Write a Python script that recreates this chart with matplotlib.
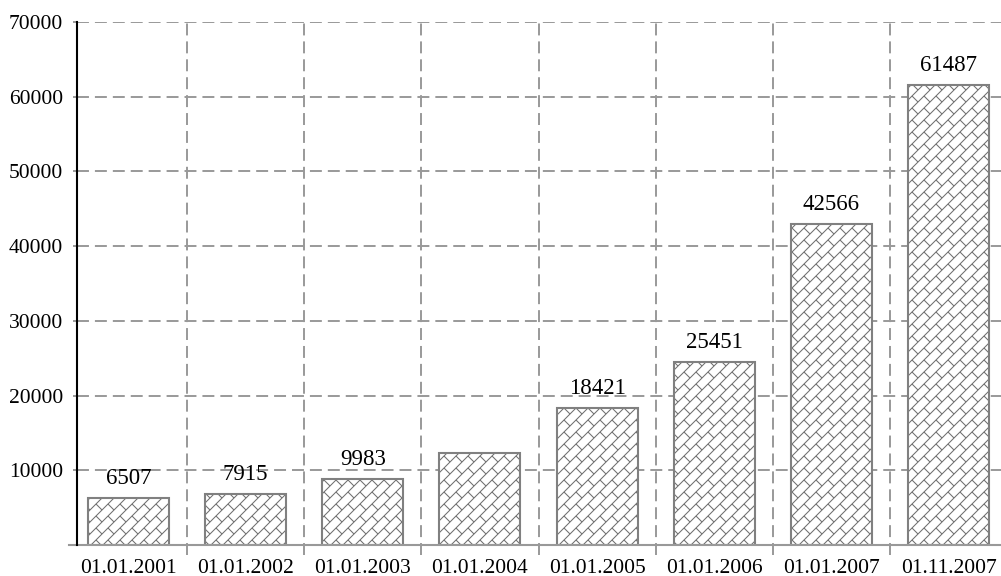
"""
Bar chart with diagonal-brick hatching, dashed grid and value labels.
"""

import matplotlib
matplotlib.use('Agg')  # no display
import matplotlib.pyplot as plt
from matplotlib.collections import LineCollection
from matplotlib.transforms import IdentityTransform
import numpy as np

# Data
dates = ['01.01.2001', '01.01.2002', '01.01.2003', '01.01.2004',
         '01.01.2005', '01.01.2006', '01.01.2007', '01.11.2007']
bar_heights = [6300, 6800, 8850, 12250, 18350, 24450, 42950, 61600]
value_labels = ['6507', '7915', '9983', '', '18421', '25451', '42566', '61487']
y_ticks = [10000, 20000, 30000, 40000, 50000, 60000, 70000]

# Style
GRID_COLOR = '#999999'
EDGE_COLOR = '#808080'
HATCH_COLOR = '#6f6f6f'
FONT = 'Liberation Serif'
DASHES = (0, (8.6, 4.3))
BRICK_STEP = 12  # px between hatch lines

plt.rcParams['font.family'] = FONT
plt.rcParams['lines.scale_dashes'] = False

W, H = 1001, 576
fig = plt.figure(figsize=(W / 100, H / 100), dpi=100)
ax = fig.add_axes([77 / W, 31 / H, (W - 77) / W, 523 / H])

x = np.arange(len(dates))
ax.set_xlim(-0.4386, 7.447)
ax.set_ylim(0, 70000)


def brick_segments(x0, x1, y0, y1, step):
    """Diagonal brick pattern in pixel space over a box."""
    segs = []
    k_lo = int(np.floor((x0 - y1) / step)) - 1
    k_hi = int(np.ceil((x1 - y0) / step)) + 1
    j_lo = int(np.floor(y0 / step)) - 1
    j_hi = int(np.ceil(y1 / step)) + 1
    for k in range(k_lo, k_hi + 1):
        c = k * step
        # long "/" line
        segs.append([(y0 - step + c, y0 - step), (y1 + step + c, y1 + step)])
        # short "\" steps to the next line, staggered by half a brick
        for j in range(j_lo, j_hi + 1):
            yy = j * step
            segs.append([(yy + c, yy), (yy + c + step / 2, yy - step / 2)])
    return segs


bars = ax.bar(x, bar_heights, width=0.69, color='white', linewidth=0, zorder=2)
for bar in bars:
    (bx0, by0), (bx1, by1) = ax.transData.transform(
        [(bar.get_x(), 0), (bar.get_x() + bar.get_width(), bar.get_height())])
    lc = LineCollection(brick_segments(bx0, bx1, by0, by1, BRICK_STEP),
                        colors=HATCH_COLOR, linewidths=0.75,
                        transform=IdentityTransform(), zorder=3)
    ax.add_collection(lc, autolim=False)
    lc.set_clip_path(bar)  # after add_collection, which would reset it
ax.bar(x, bar_heights, width=0.69, fill=False, edgecolor=EDGE_COLOR,
       linewidth=1.5, zorder=4)

for xi, h, lab in zip(x, bar_heights, value_labels):
    if lab:
        ax.annotate(lab, (xi, h), xytext=(0, 10), textcoords='offset points',
                    ha='center', va='baseline', fontsize=16.5, color='black')

# Grid
ax.set_yticks(y_ticks)
ax.set_yticklabels([str(v) for v in y_ticks])
ax.yaxis.grid(True, color=GRID_COLOR, linewidth=1.4, linestyle=DASHES, zorder=1)
ax.set_axisbelow(True)
ax.vlines(x[:-1] + 0.5, -0.02, 1, transform=ax.get_xaxis_transform(),
          colors=GRID_COLOR, linewidth=1.4, linestyles=DASHES, clip_on=False,
          zorder=1)
ax.axhline(0, xmin=-0.009, xmax=1, color=GRID_COLOR, linewidth=1.5,
           clip_on=False, zorder=5)

ax.set_xticks(x)
ax.set_xticklabels(dates)
ax.tick_params(axis='x', length=0, pad=10, labelsize=15.5)
ax.tick_params(axis='y', length=3, width=1.4, color=GRID_COLOR, pad=7,
               labelsize=15.5)

for side in ['top', 'right', 'bottom']:
    ax.spines[side].set_visible(False)
ax.spines['left'].set_color('black')
ax.spines['left'].set_linewidth(1.5)
ax.spines['left'].set_zorder(6)

fig.savefig('out.png', dpi=100)
